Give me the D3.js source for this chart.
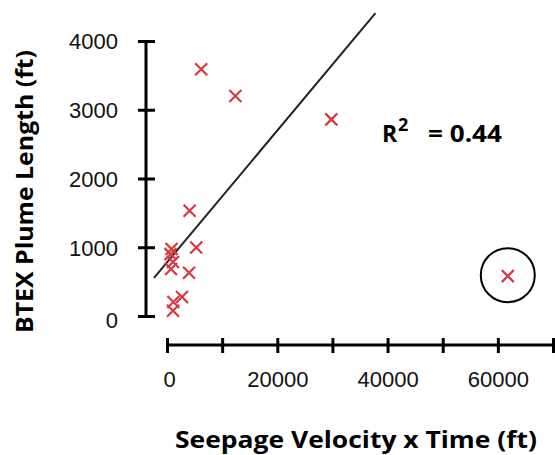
<!DOCTYPE html>
<html>
<head>
<meta charset="utf-8">
<script src="https://cdn.jsdelivr.net/npm/d3@7"></script>
<style>
  body { margin: 0; background: #fff; }
  .tick text { font-family: "Liberation Sans", Arial, sans-serif; font-size: 22px; fill: #111; }
  .title { font-family: "Open Sans", Lato, sans-serif; font-weight: bold; font-size: 23px; fill: #000; }
</style>
</head>
<body>
<script>
// seepage velocity x time (ft) vs BTEX plume length (ft)
let xVals = [6200, 12400, 29800, 4100, 5300, 820, 640, 1090, 730, 4000, 2730, 1150, 1090, 61800];
let yVals = [3590, 3200, 2860, 1530, 995, 975, 900, 785, 685, 630, 275, 205, 75, 580];
let xTicks = [0, 10000, 20000, 30000, 40000, 50000, 60000, 70000];
let xTickLabels = [0, 20000, 40000, 60000];
let yTicks = [0, 1000, 2000, 3000, 4000];
let fitX = [-2360, 37800];
let fitSlope = 0.0959, fitIntercept = 780;
let outlier = [61800, 580];
let r2 = "0.44";

let width = 555, height = 455;

let svg = d3.select("body").append("svg").attr("width", width).attr("height", height);

let x = d3.scaleLinear().domain([0, 70000]).range([167, 553]);
let y = d3.scaleLinear().domain([0, 4000]).range([316, 41]);

// y axis
let yAxis = svg.append("g").attr("transform", "translate(146,0)")
    .call(d3.axisLeft(y).tickValues(yTicks).tickFormat(d3.format("d")).tickSizeOuter(0).tickPadding(22));
yAxis.select(".domain").attr("stroke", "#000").attr("stroke-width", 3).attr("d", "M0," + y(0) + "V" + y(4000));
yAxis.selectAll(".tick line").attr("x1", -8).attr("x2", 9).attr("stroke", "#000").attr("stroke-width", 3);
yAxis.selectAll(".tick text").attr("dy", "0.36em").attr("y", function(d) { return d === 0 ? 4 : 0; });

// x axis
let xAxis = svg.append("g").attr("transform", "translate(0,345)")
    .call(d3.axisBottom(x).tickValues(xTicks)
        .tickFormat(function(d) { return xTickLabels.indexOf(d) >= 0 ? d3.format("d")(d) : ""; })
        .tickSizeOuter(0).tickPadding(20));
xAxis.select(".domain").attr("stroke", "#000").attr("stroke-width", 3).attr("d", "M" + x(0) + ",0H" + x(70000));
xAxis.selectAll(".tick line").attr("y1", -7).attr("y2", 8).attr("stroke", "#000").attr("stroke-width", 3);
xAxis.selectAll(".tick text").attr("dx", function(d) { return d === 0 ? 2 : 0; });

// regression line
svg.append("line")
    .attr("x1", x(fitX[0])).attr("y1", y(fitIntercept + fitSlope * fitX[0]))
    .attr("x2", x(fitX[1])).attr("y2", y(fitIntercept + fitSlope * fitX[1]))
    .attr("stroke", "#222").attr("stroke-width", 2);

// points
let s = 6;
let pts = svg.append("g").attr("stroke", "#d8393f").attr("stroke-width", 2.2).attr("fill", "none");
pts.selectAll("path").data(xVals.map(function(d, i) { return [d, yVals[i]]; })).enter().append("path")
    .attr("d", function(d) {
        let cx = x(d[0]), cy = y(d[1]);
        return "M" + (cx - s) + "," + (cy - s) + "L" + (cx + s) + "," + (cy + s) +
            "M" + (cx - s) + "," + (cy + s) + "L" + (cx + s) + "," + (cy - s);
    });

// circled outlier
svg.append("circle").attr("cx", x(outlier[0])).attr("cy", y(outlier[1]) - 1).attr("r", 27)
    .attr("fill", "none").attr("stroke", "#000").attr("stroke-width", 2);

// R squared
let rt = svg.append("g").attr("class", "title");
rt.append("text").attr("class", "title").attr("x", 382).attr("y", 142).style("font-size", "23px").text("R");
rt.append("text").attr("class", "title").attr("x", 398).attr("y", 131).style("font-size", "18px").text("2");
rt.append("text").attr("class", "title").attr("x", 428).attr("y", 142).style("font-size", "23px")
    .attr("textLength", 74).attr("lengthAdjust", "spacingAndGlyphs").text("= " + r2);

// axis titles
svg.append("text").attr("class", "title").attr("x", 175).attr("y", 448)
    .attr("textLength", 362).attr("lengthAdjust", "spacingAndGlyphs")
    .text("Seepage Velocity x Time (ft)");
svg.append("text").attr("class", "title")
    .attr("transform", "translate(33,333) rotate(-90)")
    .attr("textLength", 283).attr("lengthAdjust", "spacingAndGlyphs")
    .text("BTEX Plume Length (ft)");
</script>
</body>
</html>
